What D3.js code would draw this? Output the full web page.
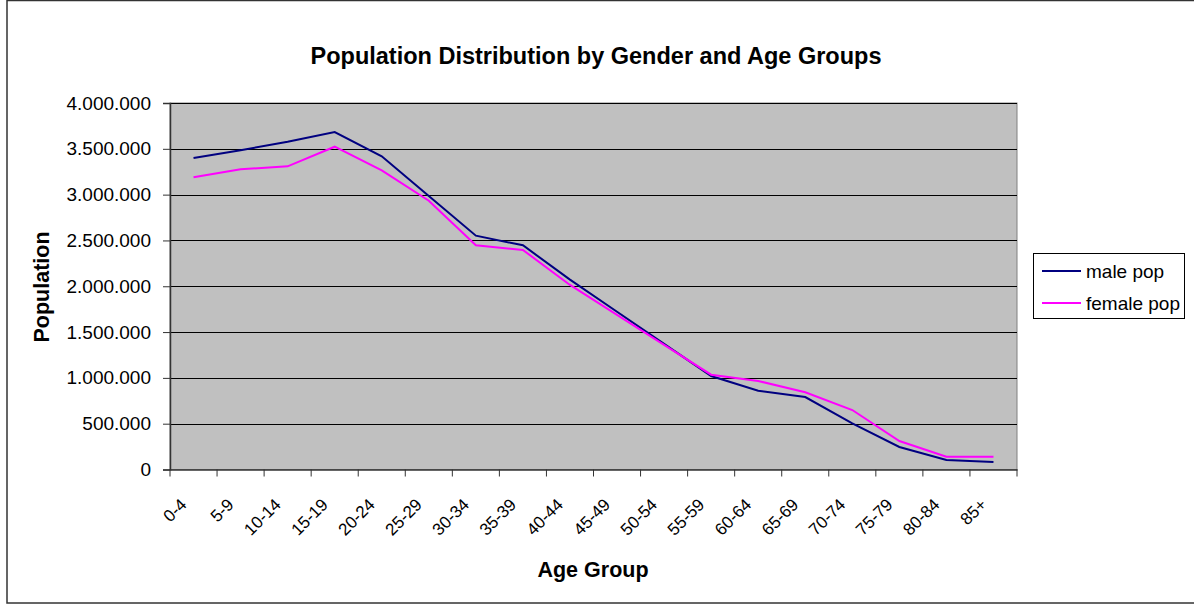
<!DOCTYPE html>
<html><head><meta charset="utf-8">
<script src="https://cdn.jsdelivr.net/npm/d3@7"></script>
<style>body{margin:0;background:#fff}svg{display:block;font-family:Arial,"Liberation Sans",sans-serif}</style>
</head><body><svg id="c" width="1194" height="605"></svg>
<script>
const categories = ["0-4","5-9","10-14","15-19","20-24","25-29","30-34","35-39","40-44","45-49","50-54","55-59","60-64","65-69","70-74","75-79","80-84","85+"];
const malePop = [3400000,3485000,3578000,3683000,3418000,2985000,2552000,2447000,2073000,1722000,1371000,1020000,860000,791000,504000,246000,104000,82000];
const femalePop = [3189000,3276000,3309000,3523000,3265000,2934000,2447000,2396000,2014000,1688000,1361000,1035000,966000,843000,649000,311000,140000,140000];
const yTicks = [0,500000,1000000,1500000,2000000,2500000,3000000,3500000,4000000];
const seriesNames = ["male pop","female pop"];
const seriesColors = ["#000080","#FF00FF"];

const svg = d3.select("#c");
const L=170, R=1017, T=103, B=469.5;
svg.append("rect").attr("x",7).attr("y",0.5).attr("width",1190).attr("height",602.5).attr("fill","#fff").attr("stroke","#333").attr("stroke-width",1.5);

const x = d3.scaleBand().domain(categories).range([L,R]);
const y = d3.scaleLinear().domain([0,4000000]).range([B,T]);

svg.append("rect").attr("x",L).attr("y",T).attr("width",R-L).attr("height",B-T).attr("fill","#C0C0C0").attr("stroke","#808080");

svg.append("g").selectAll("line").data(yTicks.filter(d=>d>0)).join("line")
 .attr("x1",L).attr("x2",R).attr("y1",d=>Math.round(y(d))+0.5).attr("y2",d=>Math.round(y(d))+0.5).attr("stroke","#000");

const fmt = d => d3.format(",")(d).replace(/,/g,".");
const ya = svg.append("g").attr("transform",`translate(${L},0)`).call(d3.axisLeft(y).tickValues(yTicks).tickFormat(fmt).tickSize(7).tickPadding(12));
ya.select(".domain").attr("stroke","#333").attr("stroke-width",1.5);
ya.selectAll(".tick line").attr("stroke","#333");
ya.selectAll("text").style("font-size","19px").style("font-family","Arial,'Liberation Sans',sans-serif").attr("fill","#000");

const xa = svg.append("g").attr("transform",`translate(0,${B})`).call(d3.axisBottom(x).tickSize(0).tickFormat(""));
xa.select(".domain").attr("stroke","#333").attr("stroke-width",1.5);
const edges = categories.map((c,i)=>x(c)).concat([R]);
svg.append("g").selectAll("line").data(edges).join("line")
 .attr("x1",d=>d).attr("x2",d=>d).attr("y1",B).attr("y2",B+7).attr("stroke","#333");
svg.append("g").selectAll("text").data(categories).join("text")
 .attr("transform",d=>`translate(${x(d)+x.bandwidth()/2-10},${B+32}) rotate(-45)`)
 .attr("text-anchor","end").attr("dy","0.35em").style("font-size","17px").text(d=>d);

const line = d3.line().x((d,i)=>x(categories[i])+x.bandwidth()/2).y(d=>y(d));
[malePop,femalePop].forEach((s,k)=>{
  svg.append("path").datum(s).attr("d",line).attr("fill","none").attr("stroke",seriesColors[k]).attr("stroke-width",2);
});

svg.append("text").attr("x",596).attr("y",64).attr("text-anchor","middle").attr("font-weight","bold").style("font-size","23.5px").text("Population Distribution by Gender and Age Groups");
svg.append("text").attr("x",593).attr("y",577).attr("text-anchor","middle").attr("font-weight","bold").style("font-size","21.5px").text("Age Group");
svg.append("text").attr("transform","translate(49,287) rotate(-90)").attr("text-anchor","middle").attr("font-weight","bold").style("font-size","21.5px").text("Population");

const lg = svg.append("g");
lg.append("rect").attr("x",1033.5).attr("y",253.5).attr("width",151).attr("height",65).attr("fill","#fff").attr("stroke","#000");
seriesNames.forEach((n,i)=>{
  const yy = 271 + i*32;
  lg.append("line").attr("x1",1042).attr("x2",1081).attr("y1",yy).attr("y2",yy).attr("stroke",seriesColors[i]).attr("stroke-width",2);
  lg.append("text").attr("x",1086).attr("y",yy).attr("dy","0.35em").style("font-size","19px").text(n);
});
</script></body></html>
